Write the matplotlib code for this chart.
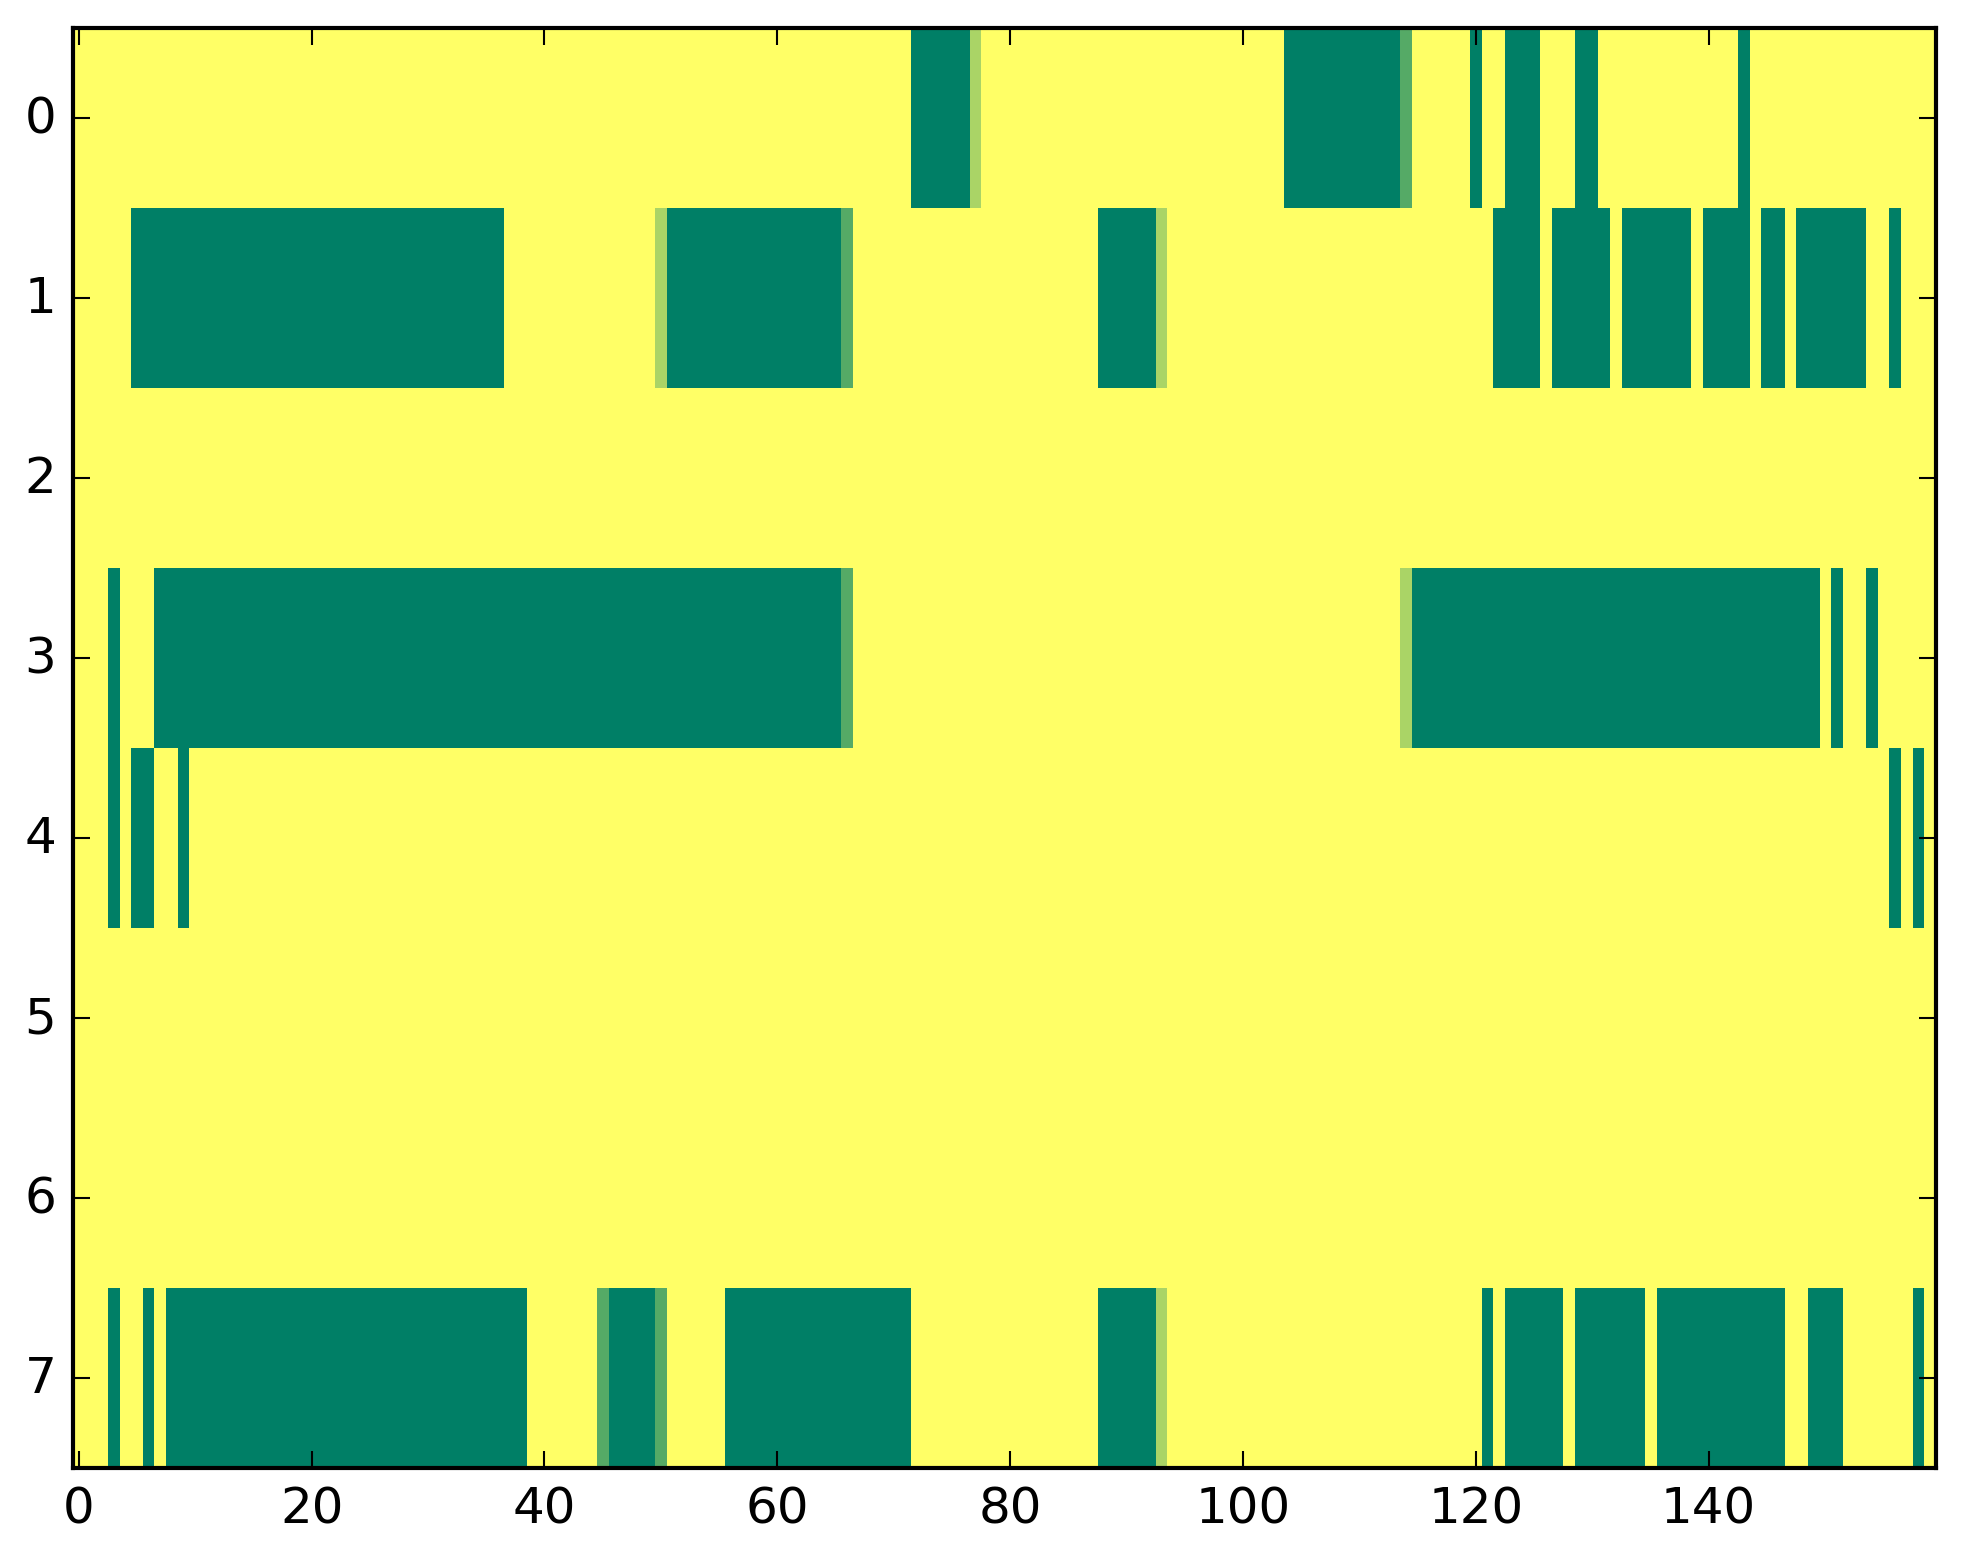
import numpy as np
import matplotlib
matplotlib.use("Agg")
import matplotlib.pyplot as plt

plt.style.use("classic")

n_rows = 8
n_cols = 160
background_value = 3

# non-background runs per row: (first column, last column, value)
row0 = [(72, 76, 0), (77, 77, 2), (104, 113, 0), (114, 114, 1), (120, 120, 0),
        (123, 125, 0), (129, 130, 0), (143, 143, 0)]
row1 = [(5, 36, 0), (50, 50, 2), (51, 65, 0), (66, 66, 1), (88, 92, 0), (93, 93, 2),
        (122, 125, 0), (127, 131, 0), (133, 138, 0), (140, 143, 0), (145, 146, 0),
        (148, 153, 0), (156, 156, 0)]
row2 = []
row3 = [(3, 3, 0), (7, 65, 0), (66, 66, 1), (114, 114, 2), (115, 149, 0),
        (151, 151, 0), (154, 154, 0)]
row4 = [(3, 3, 0), (5, 6, 0), (9, 9, 0), (156, 156, 0), (158, 158, 0)]
row5 = []
row6 = []
row7 = [(3, 3, 0), (6, 6, 0), (8, 38, 0), (45, 45, 1), (46, 49, 0), (50, 50, 1),
        (56, 71, 0), (88, 92, 0), (93, 93, 2), (121, 121, 0), (123, 127, 0),
        (129, 134, 0), (136, 146, 0), (149, 151, 0), (158, 158, 0)]

rows = [row0, row1, row2, row3, row4, row5, row6, row7]

grid = np.full((n_rows, n_cols), background_value, dtype=float)
for r, runs in enumerate(rows):
    for a, b, v in runs:
        grid[r, a:b + 1] = v

fig = plt.figure(figsize=(1963 / 300, 1564 / 300), dpi=300)
ax = fig.add_axes([0.0372, 0.0607, 0.9488, 0.9207])
ax.imshow(grid, cmap="summer", vmin=0, vmax=3, aspect="auto",
          interpolation="nearest")
ax.set_xlim(-0.5, n_cols - 0.5)
ax.set_ylim(n_rows - 0.5, -0.5)
ax.set_xticks(np.arange(0, 141, 20))
ax.set_yticks(np.arange(0, 8, 1))

fig.savefig("out.png", dpi=300)
